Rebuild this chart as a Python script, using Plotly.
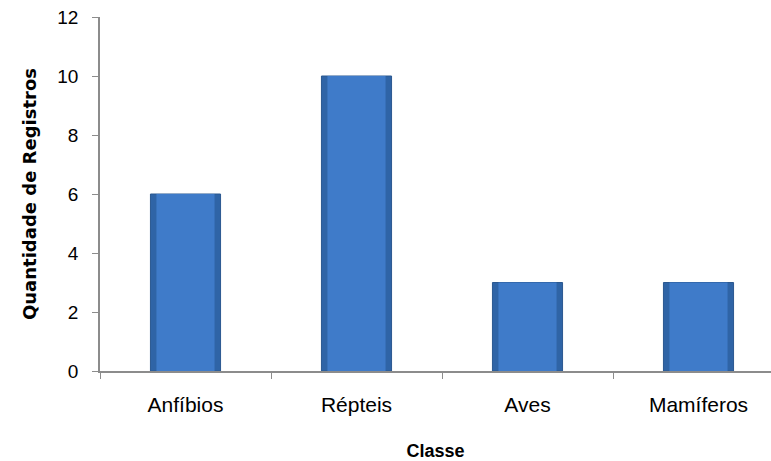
import plotly.graph_objects as go

categories = ["Anfíbios", "Répteis", "Aves", "Mamíferos"]
values = [6, 10, 3, 3]
y_ticks = [0, 2, 4, 6, 8, 10, 12]

fig = go.Figure()
# outer (darker edge) bar
fig.add_trace(go.Bar(
    x=categories, y=values, width=0.41,
    marker=dict(color="#2F64A6", line=dict(color="#2A5890", width=1)),
    hoverinfo="skip", showlegend=False,
))
# inner lighter face
fig.add_trace(go.Bar(
    x=categories, y=values, width=0.34,
    marker=dict(color="#3F7BC9", line=dict(width=0)),
    showlegend=False,
))

fig.update_layout(
    width=771, height=461,
    margin=dict(l=100, r=0, t=17, b=90),
    paper_bgcolor="white", plot_bgcolor="white",
    barmode="overlay",
    font=dict(family="Liberation Sans, Arial, sans-serif", color="#000000"),
)
fig.update_xaxes(
    type="category", categoryorder="array", categoryarray=categories,
    range=[-0.5, 3.424],
    showline=True, linecolor="#8C8C8C", linewidth=1.5,
    ticks="outside", tickson="boundaries", ticklen=6, tickcolor="#8C8C8C",
    tickfont=dict(size=21), ticklabelstandoff=14, showgrid=False,
    title=dict(text="Classe", font=dict(size=18, weight="bold"), standoff=30),
)
fig.update_yaxes(
    range=[0, 12], tickvals=y_ticks, ticktext=[str(v) for v in y_ticks],
    showline=True, linecolor="#8C8C8C", linewidth=1.5,
    ticks="outside", ticklen=6, tickcolor="#8C8C8C",
    tickfont=dict(size=19), ticklabelstandoff=10, showgrid=False, zeroline=False,
    title=dict(text="Quantidade de Registros",
               font=dict(family="DejaVu Sans", size=18, weight="bold"), standoff=16),
)

fig.write_html("out.html")
